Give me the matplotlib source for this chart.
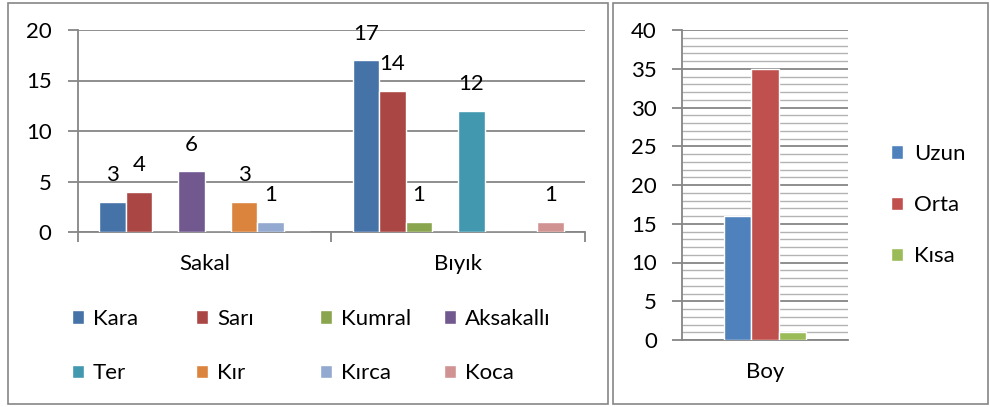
import numpy as np
import matplotlib.pyplot as plt
from matplotlib.patches import Rectangle

plt.rcParams['font.family'] = ['Lato', 'DejaVu Sans']

# left chart: Sakal / Biyik
groups = ['Sakal', 'Bıyık']
series = ['Kara', 'Sarı', 'Kumral', 'Aksakallı', 'Ter', 'Kır', 'Kırca', 'Koca']
kara = [3, 17]
sari = [4, 14]
kumral = [0, 1]
aksakalli = [6, 0]
ter = [0, 12]
kir = [3, 0]
kirca = [1, 0]
koca = [0, 1]
left_vals = [kara, sari, kumral, aksakalli, ter, kir, kirca, koca]
left_colors = ['#4572A7', '#AA4643', '#89A54E', '#71588F',
               '#4198AF', '#DB843D', '#93A9CF', '#D19392']

# right chart: Boy
boy_cat = ['Boy']
boy_series = ['Uzun', 'Orta', 'Kısa']
boy_vals = [16, 35, 1]
boy_colors = ['#4F81BD', '#C0504D', '#9BBB59']

gridc = '#868686'
fs = 16

fig = plt.figure(figsize=(9.9, 4.07), dpi=100)

# panel frames
fig.patches.append(Rectangle((8/990, 3/407), 600/990, 401/407, transform=fig.transFigure,
                             fill=False, edgecolor=gridc, lw=1.2))
fig.patches.append(Rectangle((613/990, 3/407), 375/990, 401/407, transform=fig.transFigure,
                             fill=False, edgecolor=gridc, lw=1.2))

# ---- left
ax1 = fig.add_axes([78/990, 1 - 232/407, 507/990, 202/407])
x = np.arange(len(groups))
w = 0.104
handles = []
for i, (name, vals, c) in enumerate(zip(series, left_vals, left_colors)):
    pos = x + (i - 3.5) * w
    b = ax1.bar(pos, vals, w, color=c, edgecolor='white', linewidth=1, label=name, zorder=3)
    ax1.bar_label(b, labels=[str(v) if v else '' for v in vals], padding=12, fontsize=fs)
    handles.append(b)

ax1.set_xlim(-0.5, 1.5)
ax1.set_ylim(0, 20)
ax1.set_yticks([0, 5, 10, 15, 20])
ax1.yaxis.grid(True, color=gridc, lw=1.3, zorder=0)
ax1.set_xticks(x)
ax1.set_xticklabels(groups)
ax1.set_xticks([-0.5, 0.5, 1.5], minor=True)
ax1.tick_params(axis='x', which='major', length=0, pad=16, labelsize=fs)
ax1.tick_params(axis='x', which='minor', length=7, width=1.3, color=gridc, direction='out')
ax1.tick_params(axis='y', length=7, width=1.3, color=gridc, pad=12, labelsize=fs)
for s in ['top', 'right']:
    ax1.spines[s].set_visible(False)
for s in ['left', 'bottom']:
    ax1.spines[s].set_color(gridc)
    ax1.spines[s].set_linewidth(1.3)

# legend in four columns
col_x = [72, 196, 320, 444]
for j in range(4):
    leg = fig.legend([handles[j], handles[j + 4]], [series[j], series[j + 4]],
                     loc='upper left', bbox_to_anchor=(col_x[j]/990, 1 - 309/407),
                     frameon=False, fontsize=fs, handlelength=0.55, handleheight=0.55,
                     handletextpad=0.4, labelspacing=1.55, borderpad=0, borderaxespad=0)

# ---- right
ax2 = fig.add_axes([682/990, 1 - 340/407, 166/990, 310/407])
bw = 0.165
rh = []
for i, (name, v, c) in enumerate(zip(boy_series, boy_vals, boy_colors)):
    rh.append(ax2.bar((i - 1) * bw, v, bw, color=c, edgecolor='white', linewidth=1,
                      label=name, zorder=3))
ax2.set_xlim(-0.5, 0.5)
ax2.set_ylim(0, 40)
ax2.set_yticks(range(0, 41, 5))
ax2.set_yticks(range(0, 41, 1), minor=True)
ax2.yaxis.grid(True, which='major', color=gridc, lw=1.3, zorder=1)
ax2.yaxis.grid(True, which='minor', color='#B3B3B3', lw=1.0, zorder=0)
ax2.set_xticks([0])
ax2.set_xticklabels(boy_cat)
ax2.tick_params(axis='x', length=0, pad=16, labelsize=fs)
ax2.tick_params(axis='y', which='major', length=7, width=1.3, color=gridc, pad=11, labelsize=fs)
ax2.tick_params(axis='y', which='minor', length=0)
for s in ['top', 'right']:
    ax2.spines[s].set_visible(False)
for s in ['left', 'bottom']:
    ax2.spines[s].set_color(gridc)
    ax2.spines[s].set_linewidth(1.3)

fig.legend(rh, boy_series, loc='upper left', bbox_to_anchor=(891/990, 1 - 144/407),
           frameon=False, fontsize=fs, handlelength=0.55, handleheight=0.55,
           handletextpad=0.5, labelspacing=1.4, borderpad=0, borderaxespad=0)

fig.savefig('out.png', dpi=100)
